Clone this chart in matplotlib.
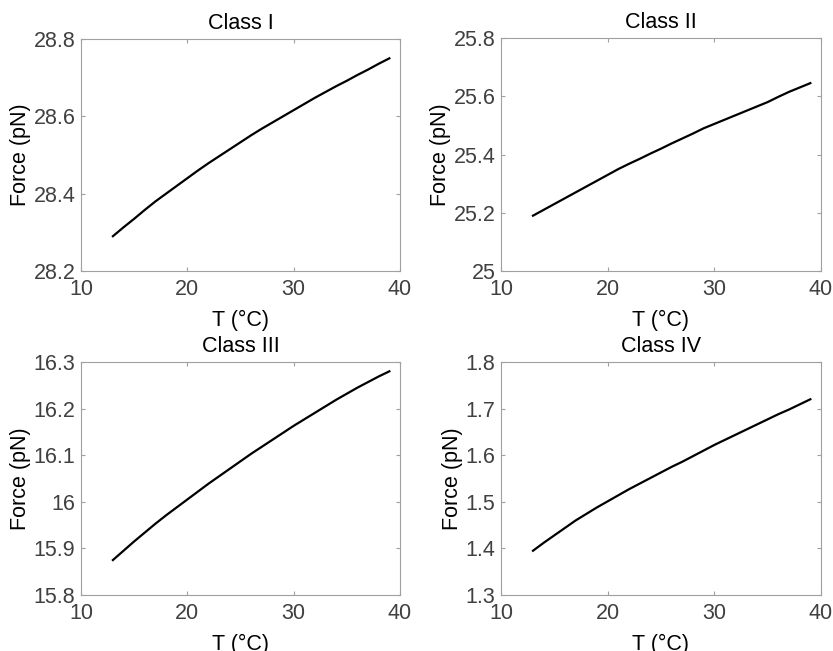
import matplotlib
matplotlib.use("Agg")
import matplotlib.pyplot as plt

plt.rcParams['font.family'] = ['Liberation Sans', 'DejaVu Sans']

temperature = [13, 14, 15, 16, 17, 18, 19, 20, 21, 22, 23, 24, 25, 26, 27, 28, 29, 30, 31, 32, 33, 34, 35, 36, 37, 38, 39]
force_class1 = [28.290, 28.313, 28.335, 28.358, 28.380, 28.400, 28.420, 28.440, 28.460, 28.479, 28.497, 28.515,
                28.533, 28.551, 28.568, 28.584, 28.600, 28.616, 28.632, 28.648, 28.663, 28.678, 28.692, 28.707,
                28.721, 28.736, 28.750]
force_class2 = [25.190, 25.210, 25.230, 25.250, 25.270, 25.290, 25.310, 25.330, 25.350, 25.368, 25.385, 25.403,
                25.420, 25.438, 25.455, 25.472, 25.490, 25.505, 25.520, 25.535, 25.550, 25.565, 25.580, 25.598,
                25.615, 25.630, 25.645]
force_class3 = [15.875, 15.895, 15.915, 15.934, 15.953, 15.971, 15.988, 16.005, 16.022, 16.039, 16.055, 16.071,
                16.087, 16.103, 16.118, 16.133, 16.148, 16.163, 16.177, 16.191, 16.205, 16.219, 16.232, 16.245,
                16.257, 16.269, 16.280]
force_class4 = [1.395, 1.412, 1.428, 1.444, 1.460, 1.474, 1.488, 1.501, 1.514, 1.527, 1.539, 1.551,
                1.563, 1.575, 1.586, 1.598, 1.610, 1.622, 1.633, 1.644, 1.655, 1.666, 1.677, 1.688,
                1.698, 1.709, 1.720]

titles = ["Class I", "Class II", "Class III", "Class IV"]
series = [force_class1, force_class2, force_class3, force_class4]
yticks = [
    [28.2, 28.4, 28.6, 28.8],
    [25, 25.2, 25.4, 25.6, 25.8],
    [15.8, 15.9, 16, 16.1, 16.2, 16.3],
    [1.3, 1.4, 1.5, 1.6, 1.7, 1.8],
]
ytick_labels = [
    ["28.2", "28.4", "28.6", "28.8"],
    ["25", "25.2", "25.4", "25.6", "25.8"],
    ["15.8", "15.9", "16", "16.1", "16.2", "16.3"],
    ["1.3", "1.4", "1.5", "1.6", "1.7", "1.8"],
]
xticks = [10, 20, 30, 40]

W, H = 833, 651
fig = plt.figure(figsize=(W / 100, H / 100), dpi=100)

# axes boxes in pixels: left, right, top, bottom
boxes = [(81, 400, 39, 271), (501, 821, 38, 271), (81, 400, 362, 595), (501, 821, 362, 595)]
fs = 15.5

for i in range(4):
    l, r, t, b = boxes[i]
    ax = fig.add_axes([l / W, 1 - b / H, (r - l) / W, (b - t) / H])
    ax.plot(temperature, series[i], color='black', lw=1.6)
    ax.set_xlim(10, 40)
    ax.set_ylim(yticks[i][0], yticks[i][-1])
    ax.set_xticks(xticks)
    ax.set_xticklabels([str(v) for v in xticks])
    ax.set_yticks(yticks[i])
    ax.set_yticklabels(ytick_labels[i])
    for s in ax.spines.values():
        s.set_color('#a0a0a0')
        s.set_linewidth(0.8)
    ax.tick_params(direction='in', length=3, width=0.8, color='#a0a0a0',
                   labelsize=fs, labelcolor='#404040', top=True, right=True)
    ax.tick_params(axis='x', pad=6)
    ax.tick_params(axis='y', pad=4)
    ax.set_title(titles[i], fontsize=fs, pad=7)
    ax.set_xlabel("T (°C)", fontsize=fs, labelpad=7)
    ax.set_ylabel("Force (pN)", fontsize=fs, labelpad=2)

fig.savefig("out.png", dpi=100)
